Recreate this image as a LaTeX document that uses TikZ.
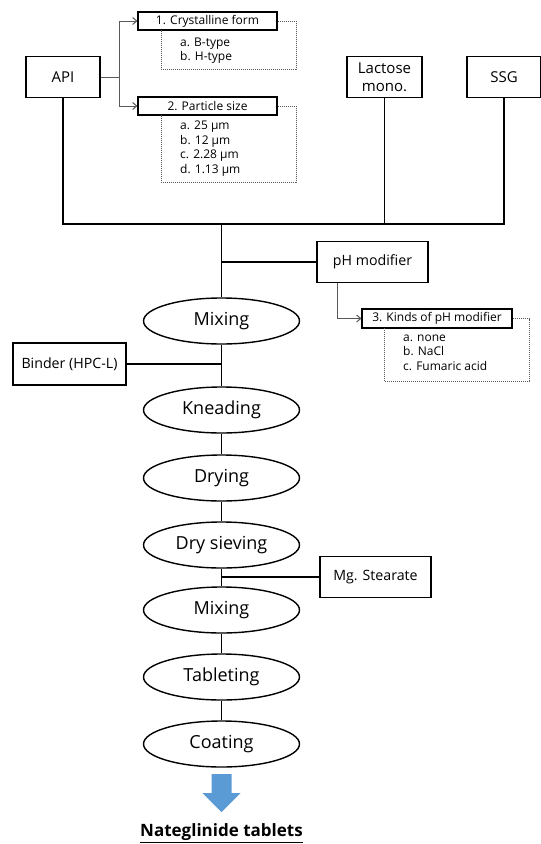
\documentclass[tikz,border=0pt]{standalone}
\usepackage{fontspec}
\setmainfont{Open Sans}
\usetikzlibrary{arrows.meta,shapes.geometric}
\definecolor{arrowblue}{HTML}{5B9BD5}
\definecolor{leadgray}{HTML}{595959}

\begin{document}
\begin{tikzpicture}[
    x=1pt, y=-1pt,
    box/.style={draw, line width=1.6pt, align=center, inner sep=0pt, minimum width=74pt, minimum height=41pt, font=\fontsize{15}{18}\selectfont},
    sidebox/.style={draw, line width=1.5pt, inner sep=0pt, minimum width=111pt, minimum height=41pt, font=\fontsize{14.2}{16}\selectfont},
    tagbox/.style={draw, line width=1.2pt, inner sep=0pt, minimum height=18pt, font=\fontsize{12}{14}\selectfont},
    items/.style={align=left, inner sep=0pt, anchor=west, font=\fontsize{12}{14.4}\selectfont},
    proc/.style={ellipse, draw, line width=1.4pt, inner sep=0pt, minimum width=156pt, minimum height=46pt, font=\fontsize{18}{20}\selectfont},
    conn/.style={line width=1.5pt},
    lead/.style={draw=leadgray, line width=1pt},
    dotframe/.style={draw=leadgray, line width=0.9pt, dash pattern=on 1pt off 1pt},
    >={Straight Barb[length=4pt,width=7pt]}
]
  \useasboundingbox (0,0) rectangle (541,844);
  \fill[white] (0,0) rectangle (541,844);

  % raw materials
  \node[box] (api) at (63,77) {API};
  \node[box, minimum width=75pt] (lac) at (384.5,77) {Lactose\\mono.};
  \node[box] (ssg) at (504,77) {SSG};

  % API factors
  \node[tagbox, minimum width=139pt] (crys) at (207.5,21) {1. Crystalline form};
  \node[items] (crysl) at (180,50.5) {a. B-type\\b. H-type};
  \node[tagbox, minimum width=139pt] (psize) at (207.5,106) {2. Particle size};
  \node[items] (psizel) at (180,148.5) {a. 25 µm\\b. 12 µm\\c. 2.28 µm\\d. 1.13 µm};
  \draw[dotframe] (crys.east) -- (296,21) -- (296,69) -- (161,69) -- (161,30);
  \draw[dotframe] (psize.east) -- (296,106) -- (296,182) -- (161,182) -- (161,115);

  \coordinate (fork) at (119,77);
  \draw[lead] (api.east) -- (fork);
  \draw[lead, ->] (fork) |- (crys.west);
  \draw[lead, ->] (fork) |- (psize.west);

  % process
  \node[sidebox] (ph) at (372.5,262) {pH modifier};
  \node[tagbox, minimum width=150pt, minimum height=19pt] (kinds) at (437,318.5) {3. Kinds of pH modifier};
  \node[items] (kindsl) at (403,352.5) {a. none\\b. NaCl\\c. Fumaric acid};
  \draw[dotframe] (kinds.east) -- (529,318.5) -- (529,381) -- (384,381) -- (384,328);
  \draw[lead, ->] ([xshift=-35pt]ph.south) |- (kinds.west);

  \node[proc] (mix1) at (221.5,321) {Mixing};
  \node[sidebox, minimum width=113pt, minimum height=42pt] (binder) at (69.5,364) {Binder (HPC-L)};
  \node[proc] (knead) at (221.5,410) {Kneading};
  \node[proc] (dry) at (221.5,478) {Drying};
  \node[proc] (sieve) at (221.5,545) {Dry sieving};
  \node[sidebox] (mg) at (375.5,577) {Mg. Stearate};
  \node[proc] (mix2) at (221.5,610) {Mixing};
  \node[proc] (tablet) at (221.5,677) {Tableting};
  \node[proc] (coat) at (221.5,744) {Coating};
  \node[font=\fontsize{17}{19}\selectfont\bfseries, inner sep=0pt] (product) at (221.5,833) {\underline{Nateglinide tablets}};

  \coordinate (busl) at (63,224);
  \coordinate (busr) at (504,224);
  \coordinate (join) at (221.5,224);
  \draw[conn] (api.south) -- (busl) -- (busr) -- (ssg.south);
  \draw[conn] (lac.south) -- (lac.south |- busl);
  \draw[conn] (join) -- (mix1.north);
  \draw[conn] (ph.west) -- (ph.west -| join);
  \draw[conn] (mix1.south) -- (knead.north);
  \draw[conn] (binder.east) -- (binder.east -| knead.north);
  \draw[conn] (knead.south) -- (dry.north);
  \draw[conn] (dry.south) -- (sieve.north);
  \draw[conn] (sieve.south) -- (mix2.north);
  \draw[conn] (mg.west) -- (mg.west -| sieve.south);
  \draw[conn] (mix2.south) -- (tablet.north);
  \draw[conn] (tablet.south) -- (coat.north);

  \fill[arrowblue] (211.5,774) -- (231.5,774) -- (231.5,793) -- (240.5,793) -- (221.5,812) -- (202.5,793) -- (211.5,793) -- cycle;
\end{tikzpicture}
\end{document}
